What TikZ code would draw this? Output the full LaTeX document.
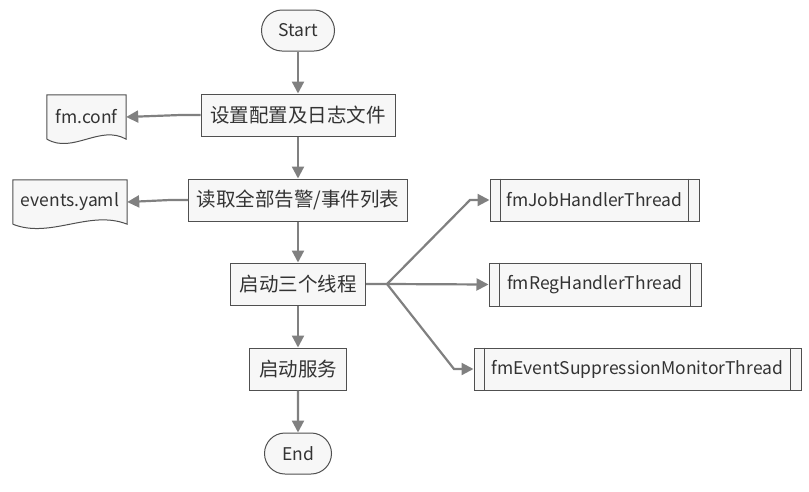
\documentclass[tikz,border=0pt]{standalone}
\usepackage{fontspec}
\setmainfont{Noto Sans CJK SC}
\usetikzlibrary{arrows.meta,shapes.misc,calc,backgrounds}
\definecolor{linegray}{HTML}{808080}
\definecolor{boxgray}{HTML}{F7F7F7}
\definecolor{edgegray}{HTML}{505050}
\definecolor{textgray}{HTML}{333333}

\begin{document}
\begin{tikzpicture}[x=1pt,y=-1pt]
\tikzstyle{every node}=[font=\fontsize{17.5}{20}\selectfont, text=textgray];
\tikzstyle{proc}=[draw=edgegray,fill=boxgray,line width=1pt,minimum height=42pt,inner sep=0pt];
\tikzstyle{cjk}=[proc,font=\fontsize{19.5}{22}\selectfont];
\tikzstyle{term}=[proc,rounded rectangle];
\tikzstyle{doc}=[minimum height=44pt,inner sep=0pt];
\tikzstyle{flow}=[draw=linegray,line width=2.2pt,-{Triangle[length=12pt,width=12pt]}];
\useasboundingbox (0,0) rectangle (809,491);
\node [term,minimum width=73pt,minimum height=41pt] (start) at (298, 30.5) {Start};
\node [cjk,minimum width=194pt] (setup) at (298, 115) {设置配置及日志文件};
\node [cjk,minimum width=219pt] (read) at (298, 200) {读取全部告警/事件列表};
\node [cjk,minimum width=135pt] (threads) at (298, 284) {启动三个线程};
\node [cjk,minimum width=97pt] (serve) at (298, 369) {启动服务};
\node [term,minimum width=67pt,minimum height=41pt] (end) at (298, 453.5) {End};
\node [doc,minimum width=79pt] (conf) at (86.5, 117) {fm.conf};
\node [doc,minimum width=114pt] (yaml) at (70, 202) {events.yaml};
\node [proc,minimum width=209pt] (job) at (594.5, 200) {fmJobHandlerThread};
\node [proc,minimum width=212pt,minimum height=43pt] (reg) at (595, 284.5) {fmRegHandlerThread};
\node [proc,minimum width=327pt] (supp) at (637.5, 369) {fmEventSuppressionMonitorThread};
\coordinate (fork) at (387, 284);
% side bars of the thread boxes
\foreach \t in {job,reg,supp}
  \draw [edgegray,line width=1pt] ($(\t.north west)+(11,0)$) -- ($(\t.south west)+(11,0)$)
  ($(\t.north east)+(-11,0)$) -- ($(\t.south east)+(-11,0)$);
% file symbols
\begin{scope}[on background layer]
\foreach \d in {conf,yaml}
  \draw [edgegray,fill=boxgray,line width=1pt] (\d.south west) -- (\d.north west) -- (\d.north east) -- (\d.south east)
  .. controls ($(\d.south east)!0.33!(\d.south west)+(0,-15)$) and ($(\d.south east)!0.67!(\d.south west)+(0,15)$) .. (\d.south west);
\end{scope}
\draw [flow] (start) -- (setup);
\draw [flow] (setup) -- (read);
\draw [flow] (read) -- (threads);
\draw [flow] (threads) -- (serve);
\draw [flow] (serve) -- (end);
\draw [flow] (setup.west) -- ++(-20,0) -- (conf.east);
\draw [flow] (read.west) -- ++(-18,0) -- (yaml.east);
\draw [flow] (threads.east) -- (fork) -- (470, 200) -- (job.west);
\draw [flow] (fork) -- (reg.west);
\draw [flow] (fork) -- (454, 369) -- (supp.west);
\end{tikzpicture}
\end{document}
